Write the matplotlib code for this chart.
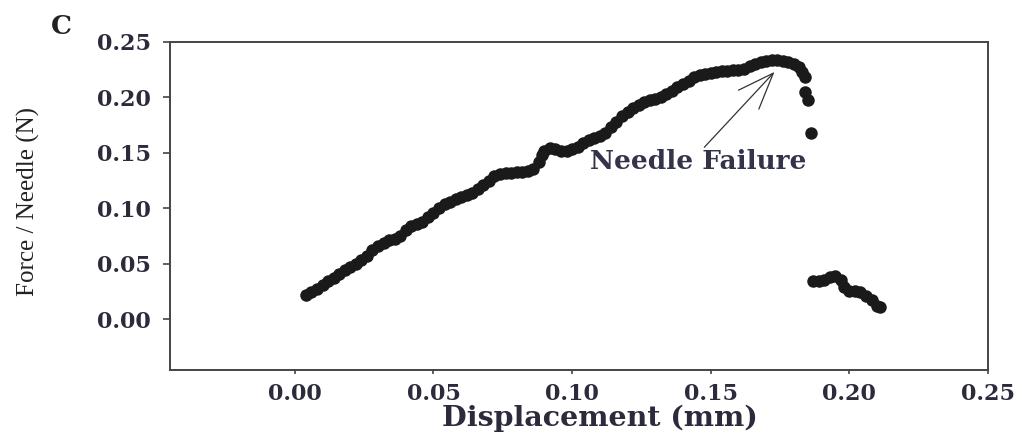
import matplotlib
matplotlib.use("Agg")
import matplotlib.pyplot as plt

# displacement (mm) / force per needle (N)
disp = [0.004, 0.006, 0.008, 0.010, 0.012, 0.014, 0.016, 0.018, 0.020, 0.022,
        0.024, 0.026, 0.028, 0.030, 0.032, 0.034, 0.036, 0.038, 0.040, 0.042,
        0.044, 0.046, 0.048, 0.050, 0.052, 0.054, 0.056, 0.058, 0.060, 0.062,
        0.064, 0.066, 0.068, 0.070, 0.072, 0.074, 0.076, 0.078, 0.080, 0.082,
        0.084, 0.086, 0.088, 0.089, 0.090, 0.092, 0.094, 0.096, 0.098, 0.100,
        0.102, 0.104, 0.106, 0.108, 0.110, 0.112, 0.114, 0.116, 0.118, 0.120,
        0.122, 0.124, 0.126, 0.128, 0.130, 0.132, 0.134, 0.136, 0.138, 0.140,
        0.142, 0.144, 0.146, 0.148, 0.150, 0.152, 0.154, 0.156, 0.158, 0.160,
        0.162, 0.164, 0.166, 0.168, 0.170, 0.172, 0.174, 0.176, 0.178, 0.180,
        0.182, 0.183, 0.184, 0.184, 0.185, 0.186,
        0.187, 0.189, 0.191, 0.193, 0.195, 0.197, 0.198, 0.200, 0.202, 0.204,
        0.206, 0.208, 0.210, 0.211]
force = [0.022, 0.024, 0.027, 0.031, 0.034, 0.037, 0.041, 0.044, 0.047, 0.050,
         0.053, 0.057, 0.062, 0.066, 0.069, 0.071, 0.072, 0.075, 0.080, 0.084,
         0.086, 0.088, 0.092, 0.096, 0.100, 0.104, 0.106, 0.108, 0.110, 0.112,
         0.114, 0.117, 0.121, 0.125, 0.129, 0.131, 0.132, 0.132, 0.133, 0.133,
         0.134, 0.135, 0.142, 0.148, 0.152, 0.154, 0.153, 0.152, 0.152, 0.153,
         0.155, 0.159, 0.162, 0.163, 0.165, 0.168, 0.173, 0.178, 0.183, 0.187,
         0.190, 0.193, 0.196, 0.198, 0.199, 0.200, 0.203, 0.206, 0.209, 0.212,
         0.215, 0.218, 0.220, 0.221, 0.222, 0.223, 0.224, 0.224, 0.225, 0.225,
         0.226, 0.228, 0.230, 0.232, 0.233, 0.234, 0.234, 0.233, 0.232, 0.230,
         0.227, 0.223, 0.218, 0.205, 0.198, 0.168,
         0.034, 0.034, 0.035, 0.038, 0.039, 0.035, 0.029, 0.025, 0.025, 0.024,
         0.021, 0.017, 0.012, 0.011]

xticks = [0.00, 0.05, 0.10, 0.15, 0.20, 0.25]
yticks = [0.00, 0.05, 0.10, 0.15, 0.20, 0.25]

TICKCOL = "#2b2b3c"

fig = plt.figure(figsize=(10.2, 4.37), dpi=100)
ax = fig.add_axes([0.1667, 0.1533, 0.8019, 0.7506])

ax.plot(disp, force, "o", color="#1a1a1a", markersize=9, markeredgewidth=0)

ax.set_xlim(-0.045, 0.25)
ax.set_ylim(-0.046, 0.25)
ax.set_xticks(xticks)
ax.set_yticks(yticks)
ax.set_xticklabels(["%.2f" % v for v in xticks])
ax.set_yticklabels(["%.2f" % v for v in yticks])

for sp in ax.spines.values():
    sp.set_color("#444444")
    sp.set_linewidth(1.4)

ax.tick_params(axis="x", length=3, width=1.2, color="#444444", pad=6)
ax.tick_params(axis="y", length=5, width=1.2, color="#444444", pad=9)
for lab in ax.get_xticklabels() + ax.get_yticklabels():
    lab.set_fontfamily("DejaVu Serif")
    lab.set_fontweight("bold")
    lab.set_fontsize(16)
    lab.set_color(TICKCOL)

ax.set_xlabel("Displacement (mm)", family="DejaVu Serif", weight="bold",
              fontsize=20.5, color=TICKCOL)
ax.xaxis.set_label_coords(0.526, -0.105)
fig.text(0.028, 0.54, "Force / Needle (N)", rotation=90, ha="center", va="center",
         family="Liberation Serif", fontsize=18, color="#222222")
fig.text(0.06, 0.94, "C", ha="center", va="center", family="DejaVu Serif",
         weight="bold", fontsize=19, color="#222222")

ax.annotate("", xy=(0.173, 0.223), xytext=(0.1477, 0.155),
            arrowprops=dict(arrowstyle="->,head_length=1.3,head_width=0.5",
                            color="#333333", lw=0.9, mutation_scale=20,
                            shrinkA=0, shrinkB=0))
ax.text(0.1455, 0.142, "Needle Failure", ha="center", va="center",
        family="DejaVu Serif", weight="bold", fontsize=19, color="#33334a")

fig.savefig("out.png", dpi=100)
